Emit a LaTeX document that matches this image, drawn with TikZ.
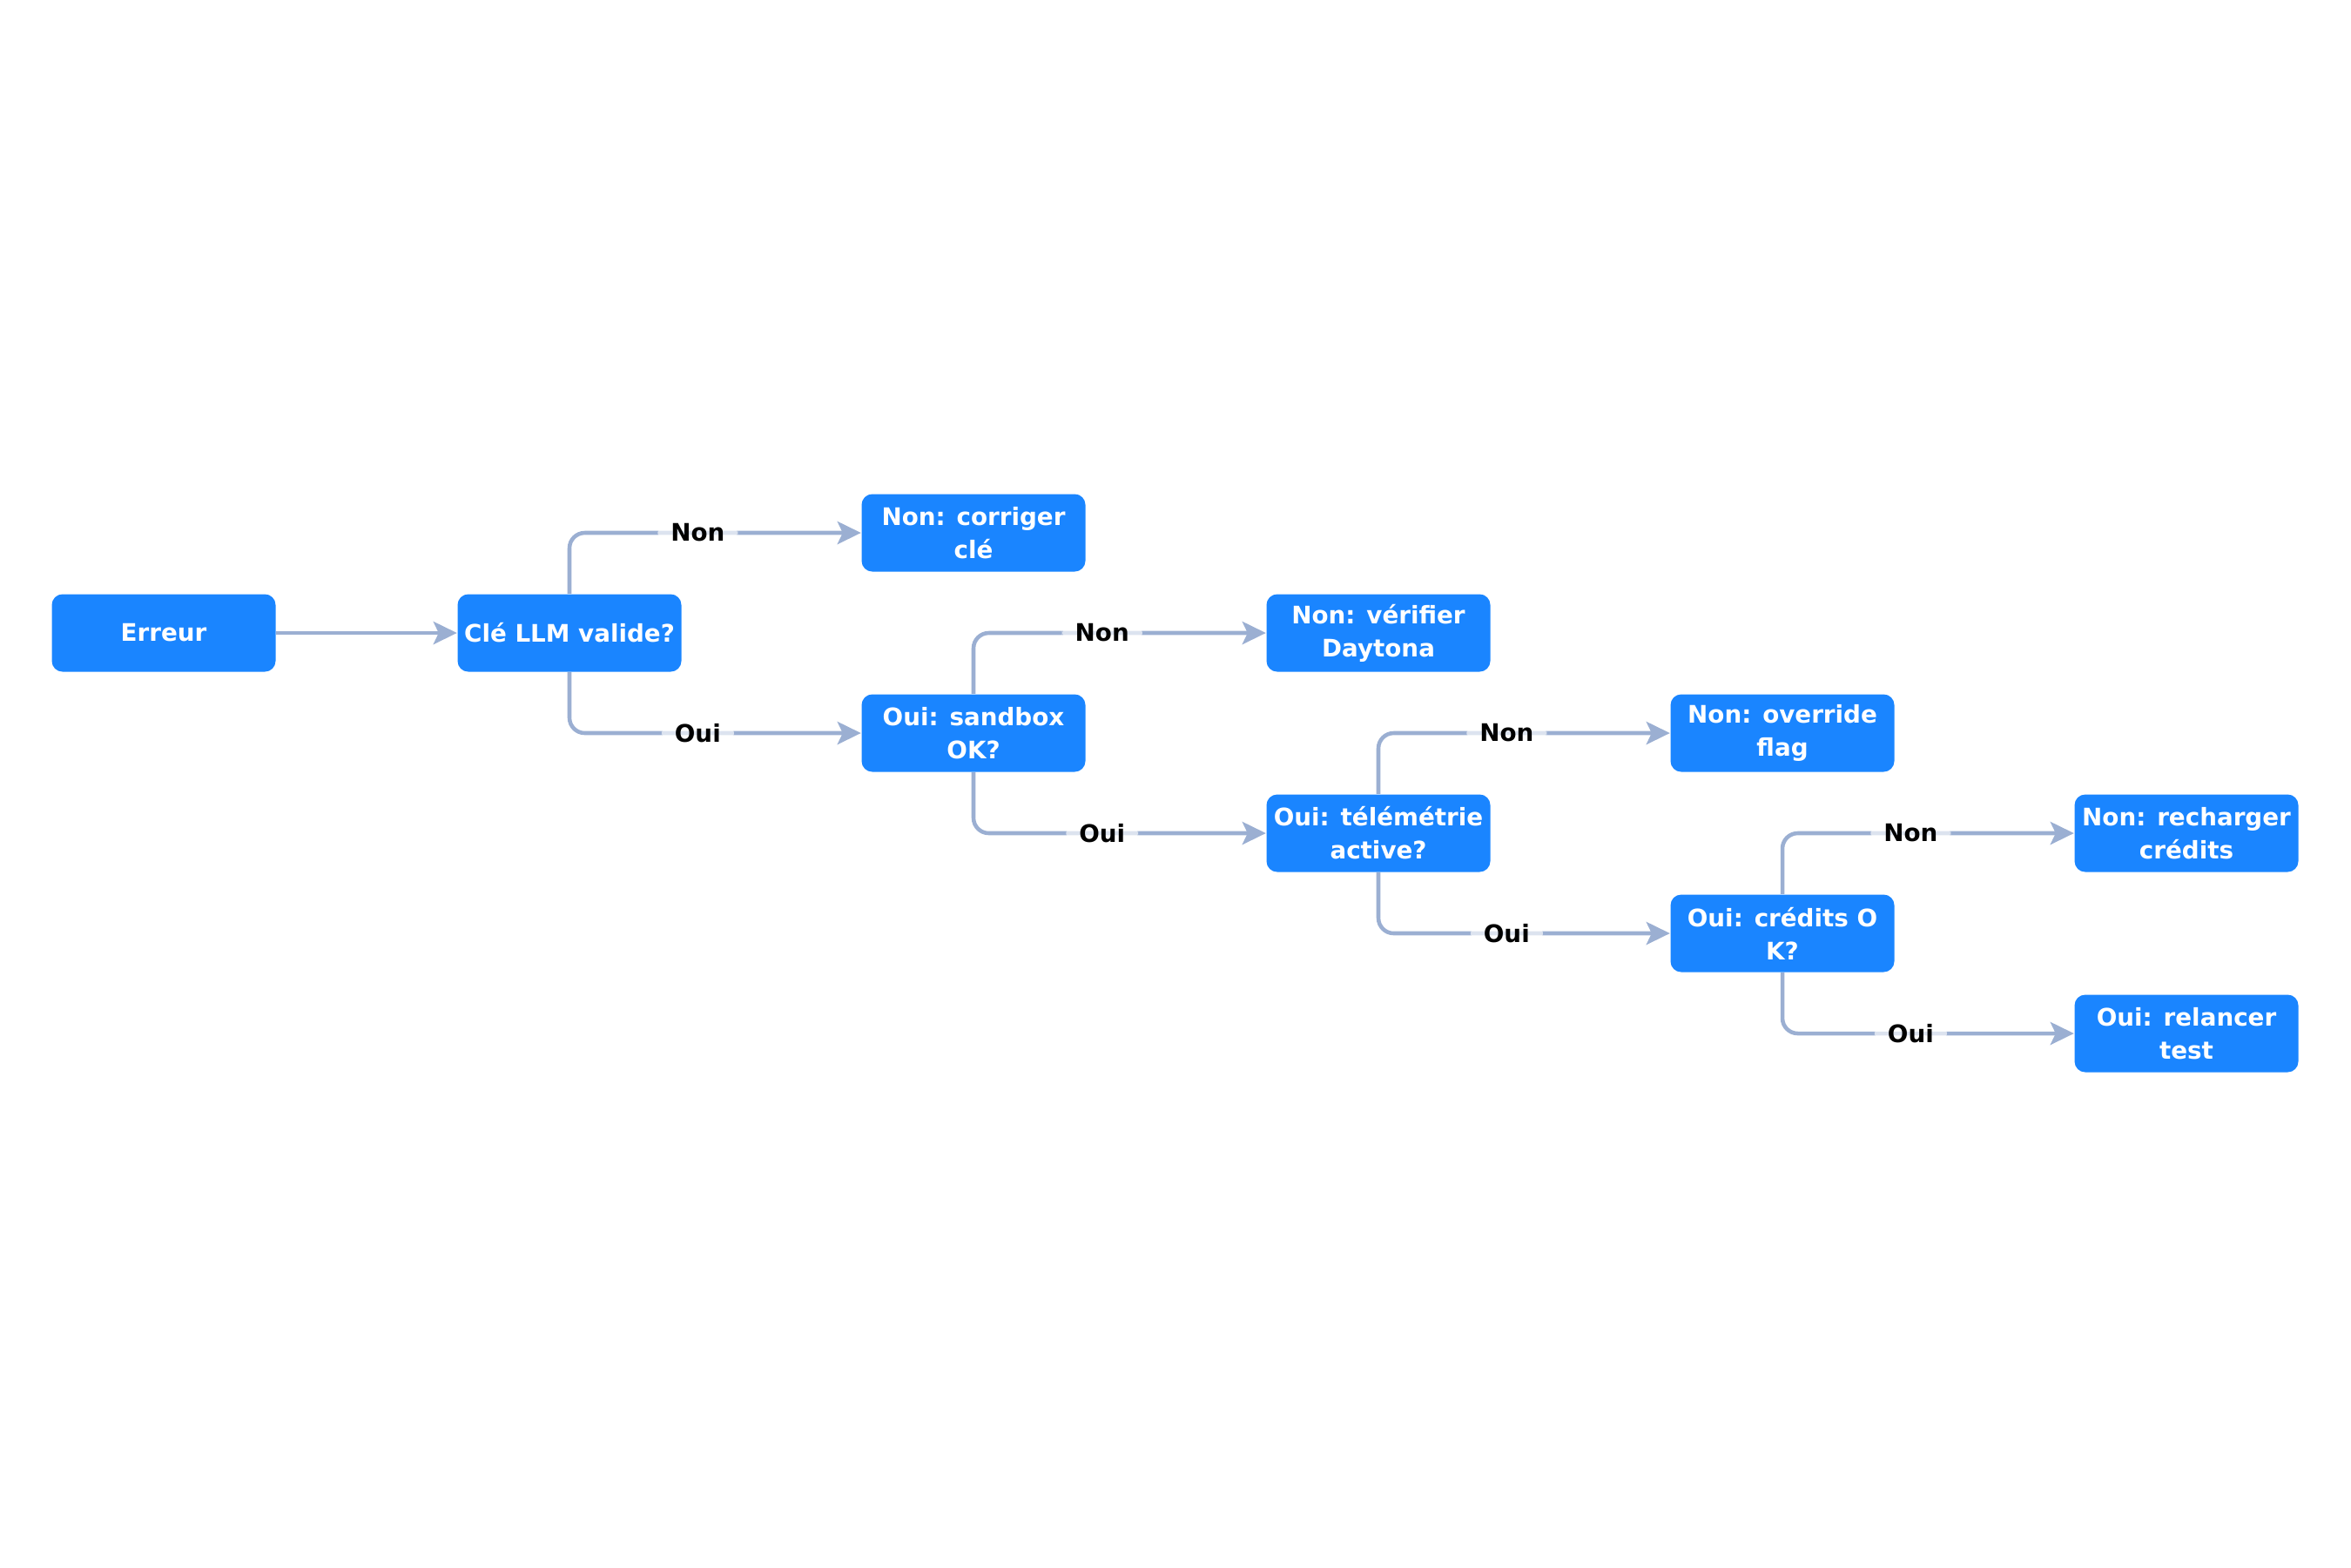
\documentclass[tikz,border=0pt]{standalone}
\usepackage{fontspec}
\setmainfont{DejaVu Sans}
\usepackage{tikz}
\usetikzlibrary{arrows.meta}
\definecolor{boxblue}{RGB}{26,133,255}
\definecolor{linkgray}{RGB}{155,175,210}

\begin{document}
\begin{tikzpicture}[
      stepbox/.style={rounded corners=3.5pt, fill=boxblue, text=white, font=\fontsize{7.9}{10.8}\selectfont\bfseries, minimum width=2.57cm, minimum height=0.89cm, align=center, inner sep=2pt},
      link/.style={draw=linkgray, line width=1.3pt, rounded corners=5pt, -{Stealth[length=0.27cm, width=0.26cm, inset=0.06cm]}},
      answer/.style={fill=white, fill opacity=0.65, text opacity=1, text=black, font=\fontsize{7.9}{9}\selectfont\bfseries, inner xsep=0.15cm, inner ysep=0.04cm, pos=0.72}
    ]
      \useasboundingbox (0,0) rectangle (27,-18);

      % main chain of questions
      \node[stepbox] (err) at (1.88, -7.27) {Erreur};
      \node[stepbox] (cle) at (6.54, -7.27) {Clé LLM valide?};
      \node[stepbox] (corriger) at (11.18, -6.12) {Non: corriger\\clé};
      \node[stepbox] (sandbox) at (11.18, -8.42) {Oui: sandbox\\OK?};
      \node[stepbox] (daytona) at (15.83, -7.27) {Non: vérifier\\Daytona};
      \node[stepbox] (tele) at (15.83, -9.57) {Oui: télémétrie\\active?};
      \node[stepbox] (override) at (20.47, -8.42) {Non: override\\flag};
      \node[stepbox] (credits) at (20.47, -10.72) {Oui: crédits O\\K?};
      \node[stepbox] (recharger) at (25.11, -9.57) {Non: recharger\\crédits};
      \node[stepbox] (relancer) at (25.11, -11.87) {Oui: relancer\\test};

      % branches
      \draw[link] (err) -- (cle);
      \draw[link] (cle.north) |- node[answer] {Non} (corriger.west);
      \draw[link] (cle.south) |- node[answer] {Oui} (sandbox.west);
      \draw[link] (sandbox.north) |- node[answer] {Non} (daytona.west);
      \draw[link] (sandbox.south) |- node[answer] {Oui} (tele.west);
      \draw[link] (tele.north) |- node[answer] {Non} (override.west);
      \draw[link] (tele.south) |- node[answer] {Oui} (credits.west);
      \draw[link] (credits.north) |- node[answer] {Non} (recharger.west);
      \draw[link] (credits.south) |- node[answer] {Oui} (relancer.west);
    \end{tikzpicture}
\end{document}
